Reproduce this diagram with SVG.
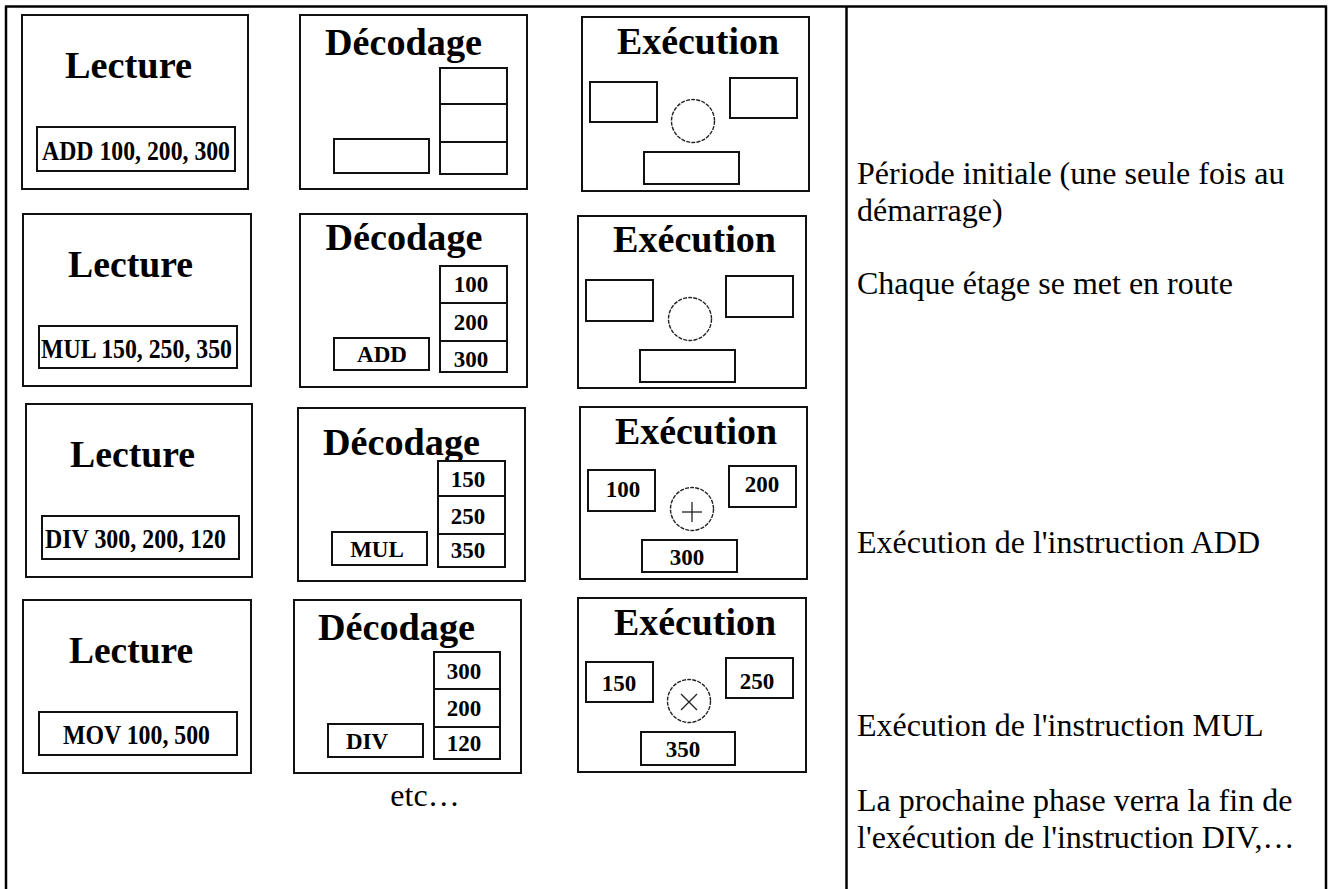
<svg xmlns="http://www.w3.org/2000/svg" width="1332" height="889" viewBox="0 0 1332 889">
<style>
.box{fill:none;stroke:#111;stroke-width:2}
.in{fill:#fff;stroke:#111;stroke-width:2}
.op{fill:none;stroke:#222;stroke-width:1.4;stroke-dasharray:4 1.2}
.sym{stroke:#222;stroke-width:1.3;fill:none}
.div{stroke:#111;stroke-width:2}
.t{font-family:"Liberation Serif","Times New Roman",serif;font-weight:bold;fill:#000;text-anchor:middle}
.title{font-size:37px}
.ins{font-size:27px}
.num{font-size:23px}
.note{font-family:"Liberation Serif","Times New Roman",serif;font-size:32px;fill:#000}
</style>
<rect width="1332" height="889" fill="#fff"/>
<g id="frame">
<line x1="5" y1="6.5" x2="1327" y2="6.5" stroke="#000" stroke-width="2.5"/>
<line x1="6" y1="6" x2="6" y2="889" stroke="#000" stroke-width="2.5"/>
<line x1="846.5" y1="6" x2="846.5" y2="889" stroke="#000" stroke-width="2.5"/>
<line x1="1326" y1="6" x2="1326" y2="889" stroke="#000" stroke-width="2.5"/>
</g>
<g id="connectors"></g>

<!-- Row 1 -->
<g id="r1-lecture">
<rect class="box" x="22" y="15" width="226" height="174"/>
<text class="t title" x="128.5" y="78" textLength="127" lengthAdjust="spacingAndGlyphs">Lecture</text>
<rect class="in" x="37" y="127" width="198" height="44"/>
<text class="t ins" x="136" y="160" textLength="188" lengthAdjust="spacingAndGlyphs">ADD 100, 200, 300</text>
</g>
<g id="r1-decodage">
<rect class="box" x="300" y="15" width="227" height="174"/>
<text class="t title" x="403.5" y="55" textLength="157" lengthAdjust="spacingAndGlyphs">Décodage</text>
<rect class="in" x="334" y="139" width="95" height="34"/>
<rect class="in" x="440" y="68" width="67" height="106"/>
<line class="div" x1="440" y1="104" x2="507" y2="104"/>
<line class="div" x1="440" y1="142" x2="507" y2="142"/>
</g>
<g id="r1-execution">
<rect class="box" x="582" y="17" width="227" height="174"/>
<text class="t title" x="698" y="54" textLength="162" lengthAdjust="spacingAndGlyphs">Exécution</text>
<rect class="in" x="590" y="82" width="67" height="40"/>
<rect class="in" x="730" y="78" width="67" height="40"/>
<circle class="op" cx="693" cy="121" r="21.5"/>
<rect class="in" x="644" y="152" width="95" height="32"/>
</g>

<!-- Row 2 -->
<g id="r2-lecture">
<rect class="box" x="23" y="214" width="228" height="172"/>
<text class="t title" x="130.5" y="277" textLength="125" lengthAdjust="spacingAndGlyphs">Lecture</text>
<rect class="in" x="39" y="326" width="198" height="42"/>
<text class="t ins" x="136.5" y="358" textLength="191" lengthAdjust="spacingAndGlyphs">MUL 150, 250, 350</text>
</g>
<g id="r2-decodage">
<rect class="box" x="300" y="214" width="227" height="173"/>
<text class="t title" x="404" y="250" textLength="157" lengthAdjust="spacingAndGlyphs">Décodage</text>
<rect class="in" x="334" y="338" width="95" height="32"/>
<text class="t num" x="382" y="362">ADD</text>
<rect class="in" x="440" y="266" width="67" height="106"/>
<line class="div" x1="440" y1="303" x2="507" y2="303"/>
<line class="div" x1="440" y1="341" x2="507" y2="341"/>
<text class="t num" x="471" y="292">100</text>
<text class="t num" x="471" y="330">200</text>
<text class="t num" x="471" y="367">300</text>
</g>
<g id="r2-execution">
<rect class="box" x="578" y="216" width="228" height="172"/>
<text class="t title" x="694.5" y="252" textLength="163" lengthAdjust="spacingAndGlyphs">Exécution</text>
<rect class="in" x="586" y="280" width="67" height="41"/>
<rect class="in" x="726" y="276" width="67" height="41"/>
<circle class="op" cx="690" cy="319" r="21.5"/>
<rect class="in" x="640" y="350" width="95" height="32"/>
</g>

<!-- Row 3 -->
<g id="r3-lecture">
<rect class="box" x="26" y="404" width="226" height="173"/>
<text class="t title" x="132.5" y="467" textLength="125" lengthAdjust="spacingAndGlyphs">Lecture</text>
<rect class="in" x="42" y="516" width="197" height="43"/>
<text class="t ins" x="135.5" y="548" textLength="181" lengthAdjust="spacingAndGlyphs">DIV 300, 200, 120</text>
</g>
<g id="r3-decodage">
<rect class="box" x="298" y="408" width="227" height="173"/>
<text class="t title" x="401.5" y="455" textLength="157" lengthAdjust="spacingAndGlyphs">Décodage</text>
<rect class="in" x="332" y="532" width="95" height="33"/>
<text class="t num" x="377" y="557">MUL</text>
<rect class="in" x="438" y="461" width="67" height="106"/>
<line class="div" x1="438" y1="496" x2="505" y2="496"/>
<line class="div" x1="438" y1="534" x2="505" y2="534"/>
<text class="t num" x="468" y="487">150</text>
<text class="t num" x="468" y="524">250</text>
<text class="t num" x="468" y="558">350</text>
</g>
<g id="r3-execution">
<rect class="box" x="580" y="407" width="227" height="172"/>
<text class="t title" x="696" y="444" textLength="162" lengthAdjust="spacingAndGlyphs">Exécution</text>
<rect class="in" x="588" y="470" width="67" height="41"/>
<text class="t num" x="623" y="497">100</text>
<rect class="in" x="729" y="466" width="67" height="41"/>
<text class="t num" x="762" y="492">200</text>
<circle class="op" cx="692" cy="509" r="21.5"/>
<line class="sym" x1="682" y1="512" x2="702" y2="512"/>
<line class="sym" x1="692" y1="502" x2="692" y2="522"/>
<rect class="in" x="642" y="540" width="95" height="32"/>
<text class="t num" x="687" y="565">300</text>
</g>

<!-- Row 4 -->
<g id="r4-lecture">
<rect class="box" x="23" y="600" width="228" height="173"/>
<text class="t title" x="131" y="663" textLength="124" lengthAdjust="spacingAndGlyphs">Lecture</text>
<rect class="in" x="39" y="712" width="198" height="43"/>
<text class="t ins" x="136.5" y="744" textLength="147" lengthAdjust="spacingAndGlyphs">MOV 100, 500</text>
</g>
<g id="r4-decodage">
<rect class="box" x="294" y="600" width="227" height="173"/>
<text class="t title" x="396.5" y="640" textLength="157" lengthAdjust="spacingAndGlyphs">Décodage</text>
<rect class="in" x="328" y="724" width="95" height="33"/>
<text class="t num" x="367" y="749">DIV</text>
<rect class="in" x="434" y="652" width="66" height="107"/>
<line class="div" x1="434" y1="689" x2="500" y2="689"/>
<line class="div" x1="434" y1="727" x2="500" y2="727"/>
<text class="t num" x="464" y="679">300</text>
<text class="t num" x="464" y="716">200</text>
<text class="t num" x="464" y="751">120</text>
</g>
<g id="r4-execution">
<rect class="box" x="578" y="598" width="228" height="174"/>
<text class="t title" x="695" y="635" textLength="162" lengthAdjust="spacingAndGlyphs">Exécution</text>
<rect class="in" x="586" y="662" width="67" height="40"/>
<text class="t num" x="619" y="691">150</text>
<rect class="in" x="726" y="658" width="67" height="40"/>
<text class="t num" x="757" y="689">250</text>
<circle class="op" cx="689" cy="701" r="21.5"/>
<line class="sym" x1="681" y1="694" x2="697" y2="710"/>
<line class="sym" x1="697" y1="694" x2="681" y2="710"/>
<rect class="in" x="641" y="732" width="94" height="33"/>
<text class="t num" x="683" y="757">350</text>
</g>

<g id="etc"><text class="note" x="425" y="806" text-anchor="middle">etc…</text></g>

<g id="notes">
<text class="note" x="857" y="184">Période initiale (une seule fois au</text>
<text class="note" x="857" y="221">démarrage)</text>
<text class="note" x="857" y="294">Chaque étage se met en route</text>
<text class="note" x="857" y="553">Exécution de l'instruction ADD</text>
<text class="note" x="857" y="736">Exécution de l'instruction MUL</text>
<text class="note" x="857" y="811">La prochaine phase verra la fin de</text>
<text class="note" x="857" y="848">l'exécution de l'instruction DIV,…</text>
</g>
</svg>
